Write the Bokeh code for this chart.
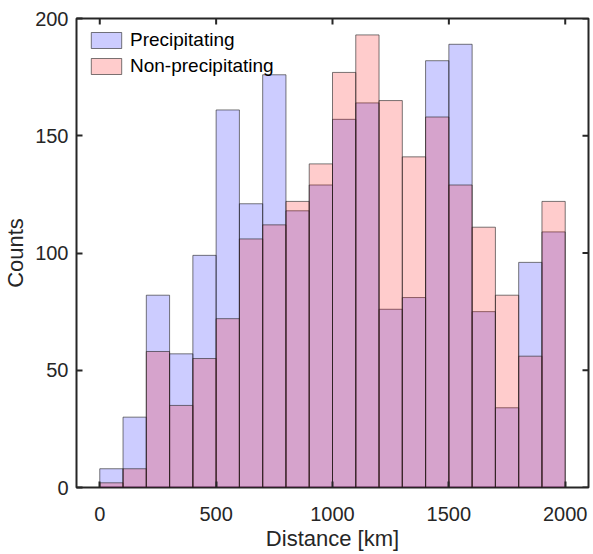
import math
from bokeh.plotting import figure
from bokeh.models import Range1d, FixedTicker, Legend, LegendItem, ColumnDataSource
from bokeh.embed import file_html
from bokeh.resources import INLINE

# Histogram bin edges (km) and counts per bin
bin_edges = list(range(0, 2001, 100))
precip = [8, 30, 82, 57, 99, 161, 121, 176, 118, 129,
          157, 164, 76, 81, 182, 189, 75, 34, 96, 109]
nonprecip = [2, 8, 58, 35, 55, 72, 106, 112, 122, 138,
             177, 193, 165, 141, 158, 129, 111, 82, 56, 122]
x_ticks = [0, 500, 1000, 1500, 2000]
y_ticks = [0, 50, 100, 150, 200]
series_names = ["Precipitating", "Non-precipitating"]

FONT = "Liberation Sans"
TXT = "#262626"

xr = Range1d(-100, 2100)
yr = Range1d(0, 200)
p = figure(width=593, height=554, output_backend="svg", toolbar_location=None,
           x_range=xr, y_range=yr,
           min_border_left=76, min_border_right=5, min_border_top=18,
           min_border_bottom=67)

src_p = ColumnDataSource(dict(left=bin_edges[:-1], right=bin_edges[1:], top=precip))
src_n = ColumnDataSource(dict(left=bin_edges[:-1], right=bin_edges[1:], top=nonprecip))

r1 = p.quad(left="left", right="right", top="top", bottom=0, source=src_p,
            fill_color="#0000ff", fill_alpha=0.2,
            line_color="#222222", line_alpha=0.6, line_width=1)
r2 = p.quad(left="left", right="right", top="top", bottom=0, source=src_n,
            fill_color="#ff0000", fill_alpha=0.2,
            line_color="#222222", line_alpha=0.6, line_width=1)

# mirrored tick marks on the top and right edges of the box
p.scatter(x=[xr.end] * len(y_ticks), y=y_ticks, marker="dash", size=12,
          line_color=TXT, line_width=2)
p.scatter(x=x_ticks, y=[yr.end] * len(x_ticks), marker="dash", size=12,
          angle=math.pi / 2, line_color=TXT, line_width=2)

p.xgrid.visible = False
p.ygrid.visible = False
p.outline_line_color = TXT
p.outline_line_width = 2
p.background_fill_color = "white"
p.border_fill_color = "white"

for ax in (p.xaxis[0], p.yaxis[0]):
    ax.axis_line_color = None
    ax.major_tick_in = 6
    ax.major_tick_out = 0
    ax.minor_tick_line_color = None
    ax.major_tick_line_color = TXT
    ax.major_tick_line_width = 2
    ax.major_label_text_font = FONT
    ax.major_label_text_font_size = "20px"
    ax.major_label_text_color = TXT
    ax.axis_label_text_font = FONT
    ax.axis_label_text_font_size = "22px"
    ax.axis_label_text_font_style = "normal"
    ax.axis_label_text_color = TXT

p.xaxis[0].ticker = FixedTicker(ticks=x_ticks)
p.yaxis[0].ticker = FixedTicker(ticks=y_ticks)
p.xaxis[0].axis_label = "Distance [km]"
p.yaxis[0].axis_label = "Counts"
p.xaxis[0].major_label_standoff = 19
p.xaxis[0].axis_label_standoff = 2
p.yaxis[0].major_label_standoff = 8
p.yaxis[0].axis_label_standoff = 4

legend = Legend(items=[LegendItem(label=series_names[0], renderers=[r1]),
                       LegendItem(label=series_names[1], renderers=[r2])],
                location="top_left")
legend.label_text_font = FONT
legend.label_text_font_size = "19px"
legend.label_text_color = "black"
legend.glyph_width = 38
legend.glyph_height = 20
legend.spacing = 4
legend.padding = 6
legend.margin = 11
legend.label_standoff = 5
legend.border_line_color = None
legend.background_fill_alpha = 0
p.add_layout(legend)

open("out.html", "w").write(file_html(p, INLINE))
